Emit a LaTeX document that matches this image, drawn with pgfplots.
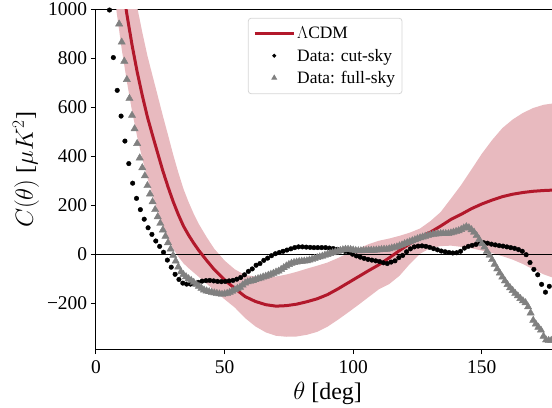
\documentclass[border=0pt]{standalone}
\usepackage{fontspec}
\setmainfont{Liberation Serif}
\usepackage{pgfplots}
\pgfplotsset{compat=1.18}
\definecolor{lcdm}{RGB}{178,24,43}
\definecolor{bandc}{RGB}{232,186,191}
\definecolor{grayc}{RGB}{128,128,128}
\begin{document}
\begin{tikzpicture}
\begin{axis}[
  name=ax, at={(0,0)}, anchor=south west,
  scale only axis, width=456bp, height=339.7bp,
  xmin=0, xmax=177.3, ymin=-387, ymax=1000,
  axis x line=box, axis y line=left,
  axis line style={-, black, line width=1bp},
  xtick={0,50,100,150}, ytick={-200,0,200,400,600,800,1000},
  yticklabels={−200,0,200,400,600,800,1000},
  xtick pos=left, ytick pos=left, tick align=outside,
  major tick length=5bp, tick style={black, line width=1bp},
  /pgf/number format/assume math mode=true,
  ticklabel style={font=\fontsize{19.5}{22}\selectfont},
  xticklabel style={anchor=base, yshift=-19bp},
  yticklabel style={anchor=east, inner sep=0pt, xshift=-3.7bp},
  every axis x label/.style={at={(axis description cs:0.508,0)}, anchor=base, yshift=-50bp},
  every axis y label/.style={at={(axis description cs:0,0.527)}, anchor=center, xshift=-70bp, rotate=90},
  label style={font=\fontsize{24}{28}\selectfont},
  xlabel={$\theta$ [deg]},
  ylabel={$C(\theta)$ [$\mu K^2$]},
  legend style={at={(axis description cs:0.333,0.975)}, anchor=north west,
    draw=black!16, line width=0.8bp, rounded corners=3bp, fill=white,
    font=\fontsize{17.5}{20}\selectfont, inner xsep=5bp, inner ysep=7bp, row sep=4.5bp},
  legend cell align=left,
  legend image code/.code={\draw[mark repeat=2,mark phase=2,#1, mark options={scale=0.65}] plot coordinates {(0bp,0bp) (19.5bp,0bp) (39bp,0bp)};},
]
% band
\addplot[fill=bandc, draw=none, forget plot] coordinates {
(6,1775) (8,1570) (10,1403) (12,1255) (14,1125) (16,1010) (18,906) (20,810) (22,728) (24,647)
(26,565) (28,487) (30,407) (32,334) (34,267) (36,213) (38,165) (40,123) (43,70) (46,22)
(50,-26) (54,-62) (58,-85) (62,-91) (66,-93) (70,-91) (74,-83) (78,-72) (82,-59) (86,-47)
(90,-34) (94,-16) (98,4) (102,23) (106,41) (110,55) (114,64) (118,75) (122,88) (126,105)
(130,135) (134,172) (138,227) (142,283) (146,346) (150,410) (154,466) (158,515) (162,550)
(166,577) (170,597) (174,610) (178,616) (180,618)
(180,-103) (178,-97) (174,-82) (170,-62) (166,-40) (162,-22) (158,-8) (154,5) (150,15) (146,24)
(142,30) (138,35) (134,33) (130,25) (126,2) (122,-40) (118,-88) (114,-122) (110,-143) (106,-175)
(102,-207) (98,-238) (94,-268) (90,-296) (86,-317) (82,-329) (78,-336) (74,-337) (70,-333)
(66,-319) (62,-295) (58,-261) (54,-218) (50,-184) (46,-148) (43,-120) (40,-93) (38,-75) (36,-57)
(34,-37) (32,-10) (30,23) (28,63) (26,115) (24,177) (22,242) (20,310) (18,390) (16,480)
(14,585) (12,705) (10,837) (8,990) (6,1185)
};
% zero line
\addplot[black, line width=0.8bp, forget plot] coordinates {(0,0) (180,0)};
% LCDM
\addplot[lcdm, line width=3bp, mark=none] coordinates {
(6,1480) (8,1280) (10,1120) (12,980) (14,855) (16,745) (18,648) (20,560) (22,485) (24,412)
(26,340) (28,275) (30,215) (32,162) (34,115) (36,78) (38,45) (40,15) (43,-25) (46,-63)
(50,-105) (54,-140) (58,-173) (62,-193) (66,-206) (70,-212) (74,-210) (78,-204) (82,-194)
(86,-182) (90,-165) (94,-142) (98,-117) (102,-92) (106,-67) (110,-43) (114,-15) (118,15)
(122,43) (126,68) (130,90) (134,115) (138,142) (142,163) (146,186) (150,205) (154,221)
(158,235) (162,245) (166,252) (170,257) (174,260) (178,262) (180,263)
};
\addlegendentry{$\Lambda$CDM}
% cut-sky
\addplot[black, only marks, mark=*, mark size=2.3bp] coordinates {
(5.25,997) (6.75,803) (8.25,669) (9.75,564) (11.25,462) (12.75,370) (14.25,290) (15.75,228)
(17.25,182) (18.75,143) (20.25,108) (21.75,81) (23.25,54) (24.75,32) (26.25,8) (27.75,-24)
(29.25,-53) (30.75,-82) (32.25,-103) (33.75,-118) (35.25,-122) (36.75,-122) (38.25,-120)
(39.75,-115) (41.25,-110) (42.75,-108) (44.25,-107) (45.75,-109) (47.25,-111) (48.75,-112)
(50.25,-111) (51.75,-109) (53.25,-107) (54.75,-102) (56.25,-95) (57.75,-84) (59.25,-70)
(60.75,-60) (62.25,-45) (63.75,-38) (65.25,-25) (66.75,-16) (68.25,-6) (69.75,2) (71.25,7)
(72.75,12) (74.25,17) (75.75,22) (77.25,27) (78.75,30) (80.25,30) (81.75,29) (83.25,28)
(84.75,27) (86.25,27) (87.75,27) (89.25,27) (90.75,25) (92.25,23) (93.75,20) (95.25,16)
(96.75,12) (98.25,7) (99.75,0) (101.25,-7) (102.75,-12) (104.25,-17) (105.75,-21) (107.25,-24)
(108.75,-27) (110.25,-30) (111.75,-35) (113.25,-38) (114.75,-32) (116.25,-27) (117.75,-14)
(119.25,-5) (120.75,10) (122.25,22) (123.75,30) (125.25,33) (126.75,34) (128.25,32) (129.75,28)
(131.25,23) (132.75,18) (134.25,13) (135.75,10) (137.25,7) (138.75,5) (140.25,6) (141.75,12)
(143.25,25) (144.75,32) (146.25,36) (147.75,40) (149.25,43) (150.75,47) (152.25,45) (153.75,41)
(155.25,38) (156.75,35) (158.25,33) (159.75,30) (161.25,27) (162.75,24) (164.25,19) (165.75,12)
(167.25,-2) (168.75,-34) (170.25,-62) (171.75,-84) (173.25,-123) (174.75,-155) (176.25,-131)
(177.75,-138)
};
\addlegendentry{Data: cut-sky}
% full-sky
\addplot[grayc, only marks, mark=triangle*, mark size=4.2bp] coordinates {
(9,940) (10,866) (11,788) (12,713) (13,636) (14,567) (15,512) (16,452) (17,393) (18,353)
(19,320) (20,280) (21,246) (22,214) (23,182) (24,153) (25,126) (26,99) (27,73) (28,47)
(29,21) (30,-5) (31,-28) (32,-52) (33,-72) (34,-83) (35,-92) (36,-100) (37,-107) (38,-115)
(39,-123) (40,-131) (41,-139) (42,-146) (43,-150) (44,-153) (45,-156) (46,-158) (47,-160)
(48,-162) (49,-164) (50,-162) (51,-160) (52,-156) (53,-151) (54,-145) (55,-140) (56,-135)
(57,-126) (58,-118) (59,-113) (60,-110) (61,-108) (62,-104) (63,-100) (64,-97) (65,-93)
(66,-90) (67,-86) (68,-82) (69,-78) (70,-73) (71,-69) (72,-62) (73,-55) (74,-48) (75,-42)
(76,-37) (77,-34) (78,-32) (79,-30) (80,-29) (81,-28) (82,-27) (83,-24) (84,-21) (85,-18)
(86,-14) (87,-11) (88,-8) (89,-4) (90,-1) (91,3) (92,6) (93,9) (94,12) (95,15) (96,18)
(97,20) (98,20) (99,19) (100,17) (101,15) (102,14) (103,14) (104,15) (105,15) (106,16)
(107,16) (108,16) (109,17) (110,18) (111,19) (112,20) (113,20) (114,22) (115,25) (116,27)
(117,30) (118,34) (119,38) (120,43) (121,47) (122,51) (123,55) (124,59) (125,63) (126,67)
(127,70) (128,73) (129,76) (130,79) (131,81) (132,82) (133,83) (134,84) (135,84) (136,84)
(137,84) (138,87) (139,90) (140,93) (141,96) (142,101) (143,107) (144,112) (145,108)
(146,100) (147,90) (148,76) (149,60) (150,43) (151,29) (152,12) (153,-4) (154,-22) (155,-41)
(156,-60) (157,-77) (158,-93) (159,-109) (160,-124) (161,-137) (162,-148) (163,-160)
(164,-170) (165,-181) (166,-190) (167,-198) (168,-215) (169,-240) (170,-270) (171,-285)
(172,-298) (173,-310) (174,-335) (175,-350) (176,-352) (177,-352)
};
\addlegendentry{Data: full-sky}
\end{axis}
\pgfresetboundingbox
\path[use as bounding box] (-96bp,-59bp) rectangle (456bp,349bp);
\end{tikzpicture}
\end{document}
